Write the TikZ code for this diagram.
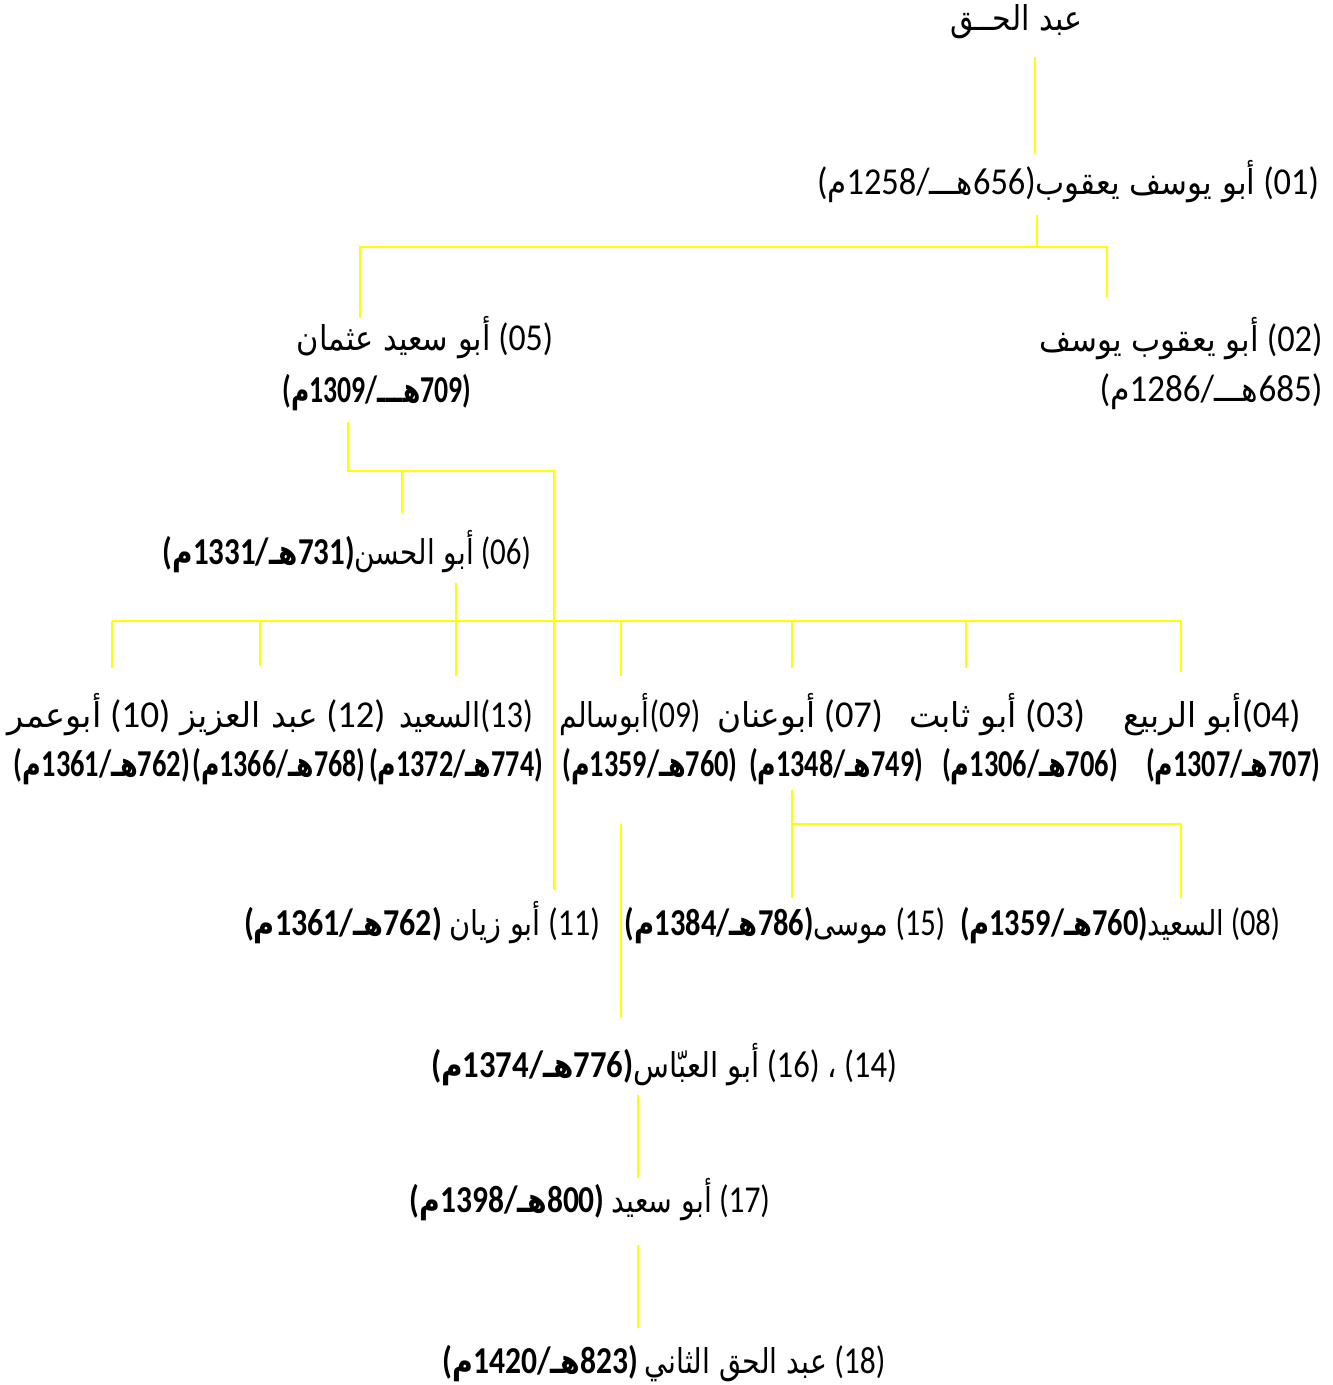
\documentclass[tikz,border=0pt]{standalone}
\usepackage{fontspec}
\usepackage{graphicx}
\setmainfont{Carlito}
\newfontfamily\arabicfont[Script=Arabic,Scale=0.9]{DejaVu Sans}
\TeXXeTstate=1
\newcommand\ar[1]{{\arabicfont\beginR #1\endR}}
\newcommand\dt[3]{(\ar{م}#2/\ar{#3}#1)}
\newcommand\fitw[2]{\resizebox{#1pt}{\height}{#2}}
\definecolor{ylw}{RGB}{255,255,0}
\begin{document}
\begin{tikzpicture}[x=1pt,y=-1pt,
  lbl/.style={inner sep=0pt,anchor=base,font=\fontsize{38}{44}\selectfont},
  conn/.style={draw=ylw,line width=1.6pt}]
\fill[white] (0,0) rectangle (1333,1385);
\useasboundingbox (0,0) rectangle (1333,1385);
% nodes
\node[lbl] (root) at (1016,30) {\fitw{132}{\ar{عبد الحــق}}};
\node[lbl] (n01) at (1068,194) {\fitw{502}{\dt{656}{1258}{هـــ}\ar{أبو يوسف يعقوب} (01)}};
\node[lbl] (n02) at (1181,351) {\fitw{283}{\ar{أبو يعقوب يوسف} (02)}};
\node[lbl] (n02d) at (1211,401) {\fitw{223}{\dt{685}{1286}{هـــ}}};
\node[lbl] (n05) at (425,350) {\fitw{256}{\ar{أبو سعيد عثمان} (05)}};
\node[lbl] (n05d) at (377,402) {\fitw{189}{\bfseries\dt{709}{1309}{هـــ}}};
\node[lbl] (n06) at (347,564) {\fitw{368}{{\bfseries\dt{731}{1331}{هـ}}\ar{أبو الحسن} (06)}};
% row
\node[lbl] (n04) at (1212,727) {\fitw{177}{\ar{أبو الربيع}(04)}};
\node[lbl] (n03) at (997,727) {\fitw{176}{\ar{أبو ثابت} (03)}};
\node[lbl] (n07) at (800,727) {\fitw{166}{\ar{أبوعنان} (07)}};
\node[lbl] (n09) at (630,727) {\fitw{141}{\ar{أبوسالم}(09)}};
\node[lbl] (n13) at (466,727) {\fitw{134}{\ar{السعيد}(13)}};
\node[lbl] (n12) at (283,727) {\fitw{205}{\ar{عبد العزيز} (12)}};
\node[lbl] (n10) at (89,727) {\fitw{163}{\ar{أبوعمر} (10)}};
\node[lbl] (n04d) at (1233,776) {\fitw{174}{\bfseries\dt{707}{1307}{هـ}}};
\node[lbl] (n03d) at (1030,776) {\fitw{176}{\bfseries\dt{706}{1306}{هـ}}};
\node[lbl] (n07d) at (836,776) {\fitw{174}{\bfseries\dt{749}{1348}{هـ}}};
\node[lbl] (n09d) at (650,776) {\fitw{175}{\bfseries\dt{760}{1359}{هـ}}};
\node[lbl] (n13d) at (456,776) {\fitw{174}{\bfseries\dt{774}{1372}{هـ}}};
\node[lbl] (n12d) at (279,776) {\fitw{173}{\bfseries\dt{768}{1366}{هـ}}};
\node[lbl] (n10d) at (102,776) {\fitw{176}{\bfseries\dt{762}{1361}{هـ}}};
\node[lbl] (n08) at (1120,935) {\fitw{320}{{\bfseries\dt{760}{1359}{هـ}}\ar{السعيد} (08)}};
\node[lbl] (n15) at (785,935) {\fitw{320}{{\bfseries\dt{786}{1384}{هـ}}\ar{موسى} (15)}};
\node[lbl] (n11) at (422,935) {\fitw{356}{{\bfseries\dt{762}{1361}{هـ}} \ar{أبو زيان} (11)}};
\node[lbl] (n14) at (664,1077) {\fitw{466}{{\bfseries\dt{776}{1374}{هـ}}\ar{أبو العبّاس} (16) \ar{،} (14)}};
\node[lbl] (n17) at (590,1212) {\fitw{360}{{\bfseries\dt{800}{1398}{هـ}} \ar{أبو سعيد} (17)}};
\node[lbl] (n18) at (664,1373) {\fitw{443}{{\bfseries\dt{823}{1420}{هـ}} \ar{عبد الحق الثاني} (18)}};
% connector points
\coordinate (a1) at (1035,57);   \coordinate (a2) at (1035,153);
\coordinate (b1) at (1037,215);  \coordinate (b2) at (1037,247);
\coordinate (bL) at (360,247);   \coordinate (bR) at (1107,247);
\coordinate (b05) at (360,318);  \coordinate (b02) at (1107,297);
\coordinate (c1) at (348,422);   \coordinate (c2) at (348,471);
\coordinate (cR) at (554,471);   \coordinate (c06t) at (402,471);
\coordinate (c06) at (402,513);  \coordinate (c11) at (554,890);
\coordinate (d1) at (456,583);   \coordinate (d13) at (456,676);
\coordinate (dL) at (112,621);   \coordinate (dR) at (1181,621);
\coordinate (e1) at (792,790);   \coordinate (e15) at (792,898);
\coordinate (eR) at (1181,824);  \coordinate (e08) at (1181,898);
\coordinate (eM) at (792,824);
\coordinate (f1) at (621,824);   \coordinate (f14) at (621,1017);
\coordinate (g1) at (638,1095);  \coordinate (g17) at (638,1178);
\coordinate (h1) at (638,1245);  \coordinate (h18) at (638,1328);
% connectors
\draw[conn] (a1) -- (a2);
\draw[conn] (b1) -- (b2);
\draw[conn] (b05) -- (bL) -- (bR) -- (b02);
\draw[conn] (c1) -- (c2) -- (cR) -- (c11);
\draw[conn] (c06t) -- (c06);
\draw[conn] (d1) -- (d13);
\draw[conn] (dL) -- (dR);
\foreach \xx/\yy in {112/668,260/666,621/676,792/668,966/668,1181/672}
  \draw[conn] (\xx,621) -- (\xx,\yy);
\draw[conn] (e1) -- (e15);
\draw[conn] (eM) -- (eR) -- (e08);
\draw[conn] (f1) -- (f14);
\draw[conn] (g1) -- (g17);
\draw[conn] (h1) -- (h18);
\end{tikzpicture}
\end{document}
